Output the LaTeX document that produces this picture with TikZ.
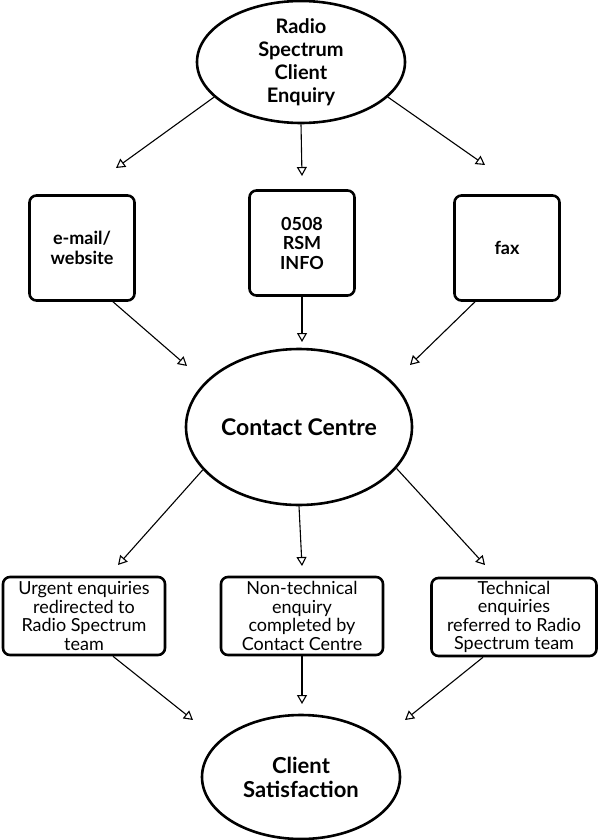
\documentclass[tikz,border=0pt]{standalone}
\usepackage{fontspec}
\setmainfont{Lato}
\usetikzlibrary{shapes.geometric,arrows.meta}

\tikzset{
  oval/.style={ellipse, draw, line width=2.6pt, inner sep=-3pt, align=center,
    font=\fontsize{20}{23}\selectfont\bfseries},
  chanbox/.style={rectangle, draw, rounded corners=7pt, line width=2.6pt,
    minimum width=105pt, minimum height=105pt, align=center,
    font=\fontsize{18}{19.5}\selectfont\bfseries},
  outbox/.style={rectangle, draw, rounded corners=7pt, line width=2.6pt,
    minimum width=162pt, minimum height=78pt, inner sep=3pt, align=center,
    font=\fontsize{18}{18.5}\selectfont},
  flow/.style={line width=1.1pt, -{Triangle[open, length=9pt, width=10pt, line width=1.1pt]}}
}

\begin{document}
\begin{tikzpicture}[x=1pt, y=-1pt]
  \useasboundingbox (0,0) rectangle (599,840); % page size

  % Enquiry and the three channels
  \node[oval, minimum width=208pt, minimum height=122pt] (enquiry) at (301,62) {Radio\\Spectrum\\Client\\Enquiry};
  \node[chanbox] (email) at (82,248) {e-mail/\\website};
  \node[chanbox] (phone) at (302,243) {0508\\RSM\\INFO};
  \node[chanbox] (fax) at (507,248) {fax};

  % Contact centre
  \node[oval, minimum width=226pt, minimum height=156pt, font=\fontsize{23}{26}\selectfont\bfseries] (centre) at (299,427) {Contact Centre};

  % Outcomes
  \node[outbox] (urgent) at (84,616) {Urgent enquiries\\redirected to\\Radio Spectrum\\team};
  \node[outbox] (nontech) at (302,616) {Non-technical\\enquiry\\completed by\\Contact Centre};
  \node[outbox, minimum width=165pt] (technical) at (514,617) {Technical\\enquiries\\referred to Radio\\Spectrum team};
  \node[oval, minimum width=198pt, minimum height=124pt, font=\fontsize{22}{24}\selectfont\bfseries] (satisfied) at (301,777) {Client\\Satisfaction};

  % Arrow tips (they stop short of the next shape)
  \coordinate (in1) at (116,168);
  \coordinate (in2) at (302,176);
  \coordinate (in3) at (485,165);
  \coordinate (cc1) at (187,366);
  \coordinate (cc2) at (302,342);
  \coordinate (cc3) at (410,365);
  \coordinate (out1) at (118,565);
  \coordinate (out2) at (302,566);
  \coordinate (out3) at (485,565);
  \coordinate (cs1) at (193,720);
  \coordinate (cs2) at (302,704);
  \coordinate (cs3) at (405,720);

  \draw[flow] (enquiry.202) -- (in1);
  \draw[flow] (enquiry.south) -- (in2);
  \draw[flow] (enquiry.338) -- (in3);
  \draw[flow] ([xshift=31pt]email.south) -- (cc1);
  \draw[flow] (phone.south) -- (cc2);
  \draw[flow] ([xshift=-32pt]fax.south) -- (cc3);
  \draw[flow] (centre.204) -- (out1);
  \draw[flow] (centre.south) -- (out2);
  \draw[flow] (centre.337) -- (out3);
  \draw[flow] ([xshift=29pt]urgent.south) -- (cs1);
  \draw[flow] (nontech.south) -- (cs2);
  \draw[flow] ([xshift=-31pt]technical.south) -- (cs3);
\end{tikzpicture}
\end{document}
